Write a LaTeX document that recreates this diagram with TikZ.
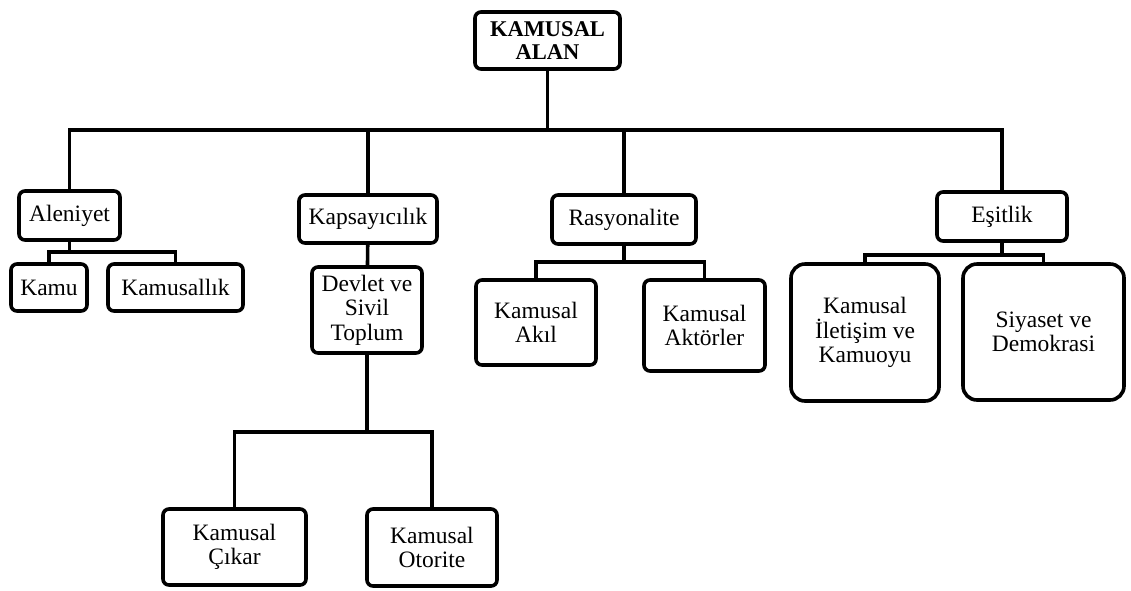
\documentclass[tikz,border=0pt]{standalone}
\usepackage{fontspec}
\setmainfont{Liberation Serif}

\begin{document}
\begin{tikzpicture}[x=1pt, y=-1pt,
    box/.style={draw, line width=3.6pt, rounded corners=6pt, align=center, inner sep=0pt, font=\fontsize{23.5}{24.5}\selectfont},
    bigbox/.style={box, rounded corners=14pt},
    link/.style={line width=3.6pt}]
    \useasboundingbox (0,0) rectangle (1131,590);

    % Root
    \node[box, font=\fontsize{22.5}{22.5}\selectfont\bfseries, minimum width=145, minimum height=57] (alan) at (547.5,40.5) {KAMUSAL\\ALAN};

    % First level
    \node[box, minimum width=101, minimum height=49] (aleniyet) at (69.5,215.5) {Aleniyet};
    \node[box, minimum width=138, minimum height=48] (kapsayicilik) at (368,219) {Kapsayıcılık};
    \node[box, minimum width=144, minimum height=49] (rasyonalite) at (624,219.5) {Rasyonalite};
    \node[box, minimum width=130, minimum height=49] (esitlik) at (1002,216.5) {Eşitlik};

    % Second level
    \node[box, minimum width=76, minimum height=47] (kamu) at (49,287.5) {Kamu};
    \node[box, minimum width=135, minimum height=47] (kamusallik) at (175.5,287.5) {Kamusallık};
    \node[box, minimum width=110, minimum height=86] (devlet) at (367,310) {Devlet ve\\Sivil\\Toplum};
    \node[box, minimum width=120, minimum height=85] (akil) at (536,322.5) {Kamusal\\Akıl};
    \node[box, minimum width=121, minimum height=91] (aktorler) at (704.5,325.5) {Kamusal\\Aktörler};
    \node[bigbox, minimum width=148, minimum height=137] (iletisim) at (865,332.5) {Kamusal\\İletişim ve\\Kamuoyu};
    \node[bigbox, minimum width=161, minimum height=136] (siyaset) at (1043.5,332) {Siyaset ve\\Demokrasi};

    % Third level
    \node[box, minimum width=143, minimum height=76] (cikar) at (234.5,547) {Kamusal\\Çıkar};
    \node[box, minimum width=130, minimum height=77] (otorite) at (432,547.5) {Kamusal\\Otorite};

    % Bus points
    \coordinate (bus0) at (547.5,130);
    \coordinate (bus1) at (69.5,252);
    \coordinate (bus2) at (367,432);
    \coordinate (bus3) at (624,262);
    \coordinate (bus4) at (1002,255);

    % Stems
    \foreach \p/\b in {alan/bus0, aleniyet/bus1, devlet/bus2, rasyonalite/bus3, esitlik/bus4} {
      \draw[link] (\p) -- (\b);
    }
    \draw[link] (kapsayicilik) -- (devlet);

    % Branches
    \foreach \b/\c in {bus0/aleniyet, bus0/kapsayicilik, bus0/rasyonalite, bus0/esitlik,
      bus1/kamu, bus1/kamusallik, bus2/cikar, bus2/otorite,
      bus3/akil, bus3/aktorler, bus4/iletisim, bus4/siyaset} {
      \draw[link] (\b) -| (\c);
    }
  \end{tikzpicture}
\end{document}
